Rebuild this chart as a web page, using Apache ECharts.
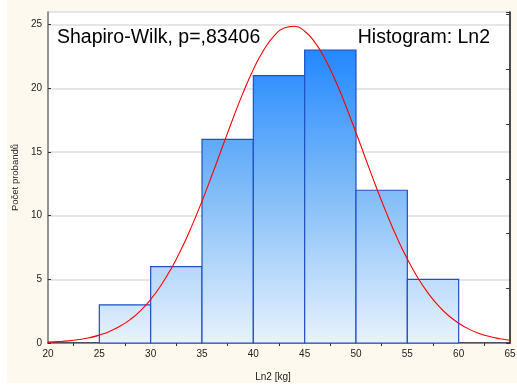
<!DOCTYPE html>
<html>
<head>
<meta charset="utf-8">
<script src="https://cdn.jsdelivr.net/npm/echarts@6/dist/echarts.min.js"></script>
<style>
  html, body { margin: 0; padding: 0; background: #ffffff; }
  #chart { position: absolute; left: 7px; top: 0; width: 510px; height: 383px; background: #fdf9ef; }
</style>
</head>
<body>
<div id="chart"></div>
<script>
// Histogram bins (lower edge, upper edge) and counts
const binStart = [25, 30, 35, 40, 45, 50, 55];
const binEnd   = [30, 35, 40, 45, 50, 55, 60];
const counts   = [3, 6, 16, 21, 23, 12, 5];
const totalN = 86;

// Fitted normal curve, sampled at whole kilograms
const curveX = [20, 21, 22, 23, 24, 25, 26, 27, 28, 29, 30, 31, 32, 33, 34, 35, 36, 37, 38, 39, 40, 41, 42,
                43, 44, 45, 46, 47, 48, 49, 50, 51, 52, 53, 54, 55, 56, 57, 58, 59, 60, 61, 62, 63, 64, 65];
const curveY = [0.07, 0.11, 0.17, 0.27, 0.41, 0.62, 0.91, 1.31, 1.84, 2.53, 3.42, 4.52, 5.84, 7.40, 9.18,
                11.14, 13.25, 15.43, 17.60, 19.65, 21.48, 23.00, 24.11, 24.75, 24.88, 24.49, 23.61, 22.29,
                20.60, 18.64, 16.52, 14.34, 12.18, 10.14, 8.26, 6.59, 5.15, 3.94, 2.95, 2.16, 1.56, 1.09,
                0.75, 0.51, 0.34, 0.22];

const xTicks = [20, 25, 30, 35, 40, 45, 50, 55, 60, 65];
const yTicks = [0, 5, 10, 15, 20, 25];
const yMax = 26;
const topTickCats = ['a', 'b', 'c', 'd', 'e', 'f', 'g', 'h', 'i'];

const titleLeft = 'Shapiro-Wilk, p=,83406';
const titleRight = 'Histogram: Ln2';
const xName = 'Ln2 [kg]';
const yName = 'Počet probandů';

const FONT = '"Liberation Sans", Arial, sans-serif';

const barData = binStart.map((s, i) => [s, binEnd[i], counts[i]]);
const curveData = curveX.map((x, i) => [x, curveY[i]]);

const chart = echarts.init(document.getElementById('chart'));

chart.setOption({
  animation: false,
  grid: {
    left: 41, right: 7, top: 12, bottom: 40,
    outerBoundsMode: 'none', containLabel: false,
    show: true, backgroundColor: '#ffffff', borderWidth: 0
  },
  xAxis: [
    {
      type: 'value', min: xTicks[0], max: xTicks[xTicks.length - 1], interval: 5, position: 'bottom',
      axisLine: { lineStyle: { color: '#1c1c3a', width: 1.5 } },
      axisTick: { show: false },
      splitLine: { show: false },
      axisLabel: { color: '#222', fontSize: 10, fontFamily: FONT, margin: 6 },
      name: xName, nameLocation: 'middle', nameGap: 29,
      nameTextStyle: { color: '#222', fontSize: 10, fontFamily: FONT, padding: [0, 12, 0, 0] }
    },
    {
      type: 'category', data: topTickCats, position: 'top', boundaryGap: true,
      axisLine: { lineStyle: { color: '#8a8a8a', width: 1 } },
      axisTick: { show: true, inside: true, length: 3, alignWithLabel: true, lineStyle: { color: '#333' } },
      axisLabel: { show: false },
      splitLine: { show: false }
    }
  ],
  yAxis: [
    {
      type: 'value', min: yTicks[0], max: yMax, interval: 5, position: 'left',
      axisLine: { show: true, lineStyle: { color: '#707070', width: 1.5 } },
      axisTick: { show: true, inside: true, length: 3, lineStyle: { color: '#333' } },
      splitLine: { show: true, lineStyle: { color: '#dedede', width: 1.5 } },
      axisLabel: { color: '#222', fontSize: 10, fontFamily: FONT, margin: 6, showMaxLabel: false },
      name: yName, nameLocation: 'middle', nameGap: 26,
      nameTextStyle: { color: '#222', fontSize: 9.5, fontFamily: FONT }
    },
    {
      // percentage scale on the right border, ticks only
      type: 'value', min: 0, max: yMax / totalN * 100, interval: 5, position: 'right',
      axisLine: { show: true, lineStyle: { color: '#111', width: 1.5 } },
      axisTick: { show: true, inside: true, length: 4, lineStyle: { color: '#333' } },
      axisLabel: { show: false },
      splitLine: { show: false }
    }
  ],
  graphic: [
    { type: 'text', left: 50, top: 28, z: 100,
      style: { text: titleLeft, fill: '#000', font: '19.5px ' + FONT } },
    { type: 'text', right: 27, top: 28, z: 100,
      style: { text: titleRight, fill: '#000', font: '19.5px ' + FONT } }
  ],
  series: [
    {
      type: 'custom', xAxisIndex: 0, yAxisIndex: 0, z: 2,
      data: barData,
      encode: { x: [0, 1], y: 2 },
      renderItem: function (params, api) {
        const p0 = api.coord([api.value(0), api.value(2)]);
        const p1 = api.coord([api.value(1), 0]);
        const topY = api.coord([xTicks[0], yMax])[1];
        const botY = api.coord([xTicks[0], 0])[1];
        return {
          type: 'rect',
          shape: { x: p0[0], y: p0[1], width: p1[0] - p0[0], height: p1[1] - p0[1] },
          style: {
            fill: new echarts.graphic.LinearGradient(0, topY, 0, botY, [
              { offset: 0, color: '#0f7cff' },
              { offset: 0.15, color: '#2a8cff' },
              { offset: 0.55, color: '#82bdf8' },
              { offset: 1, color: '#e8f2fd' }
            ], true),
            stroke: '#1f50c4',
            lineWidth: 1.2
          }
        };
      }
    },
    {
      type: 'line', xAxisIndex: 0, yAxisIndex: 0, z: 5,
      data: curveData, smooth: true, showSymbol: false, symbol: 'none',
      lineStyle: { color: '#ff0000', width: 1.1 }
    }
  ]
});
</script>
</body>
</html>
